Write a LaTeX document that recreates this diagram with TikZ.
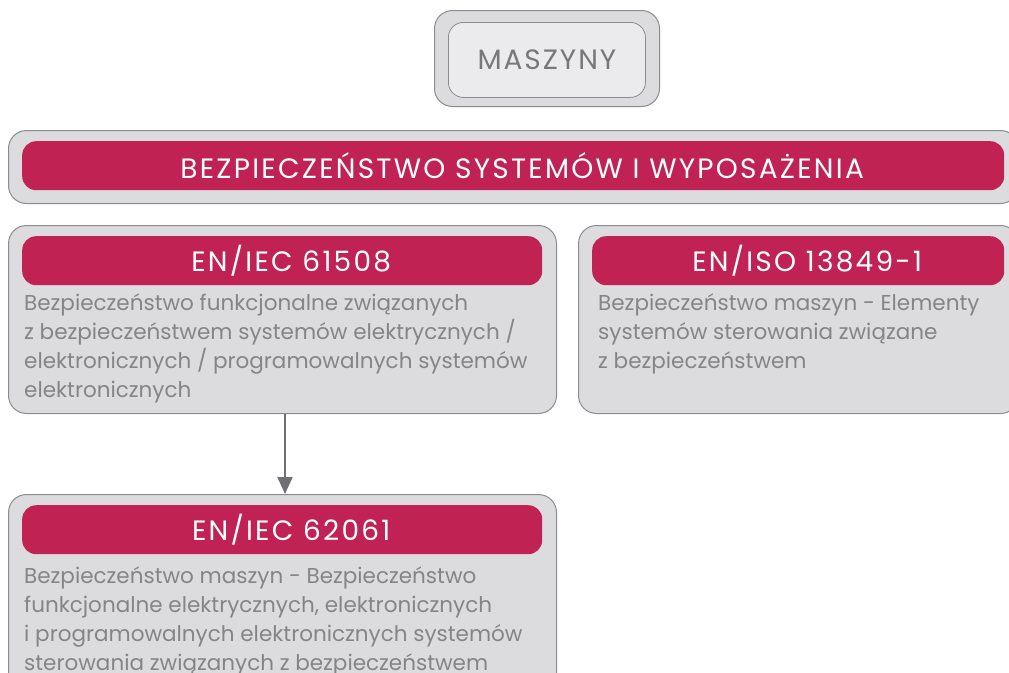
\documentclass[tikz,border=0pt]{standalone}
\usepackage{fontspec}
\setmainfont{Poppins}
\usetikzlibrary{arrows.meta}

\definecolor{crimson}{HTML}{C02353}
\definecolor{boxgray}{HTML}{DCDCDE}
\definecolor{innergray}{HTML}{EBEBED}
\definecolor{edgegray}{HTML}{8C8C8E}
\definecolor{textgray}{HTML}{858588}
\definecolor{arrowgray}{HTML}{707074}

\tikzset{
  outerbox/.style={draw=edgegray, fill=boxgray, line width=1pt, rounded corners=18pt,
    anchor=north west, inner sep=0pt},
  innerbox/.style={draw=edgegray, fill=innergray, line width=0.8pt, rounded corners=15pt,
    anchor=north west, inner sep=0pt, text=textgray!90!black,
    font={\fontsize{28}{30}\selectfont\addfontfeature{LetterSpace=7}}},
  header/.style={fill=crimson, rounded corners=14pt, anchor=north west, inner sep=0pt,
    text=white, font={\fontsize{28}{30}\selectfont\addfontfeature{LetterSpace=8}},
    execute at begin node={\hspace*{18pt}}},
  bodytext/.style={anchor=north west, inner sep=0pt, align=left, text=textgray,
    font={\fontsize{21.5}{29.3}\selectfont}},
  arrowline/.style={draw=arrowgray, line width=2pt, -{Triangle[length=17pt,width=15pt]}}
}

\begin{document}
\begin{tikzpicture}[x=1pt,y=-1pt]

% ----- Canvas -----
\useasboundingbox (0,0) rectangle (1009,672);
\clip (0,0) rectangle (1009,672);

% ----- Top: machines -----
\node[outerbox, minimum width=225pt, minimum height=96pt] (maszynyOut) at (434,10) {};
\node[innerbox, minimum width=197pt, minimum height=75pt] (maszyny) at (448,22) {MASZYNY};

% ----- Banner -----
\node[outerbox, minimum width=1010pt, minimum height=73pt] (bannerOut) at (8,130) {};
\node[header, minimum width=982pt, minimum height=49pt] (banner) at (22,141)
  {BEZPIECZEŃSTWO SYSTEMÓW I WYPOSAŻENIA};

% ----- EN/IEC 61508 -----
\node[outerbox, minimum width=548pt, minimum height=188pt] (iecA) at (8,225) {};
\node[header, minimum width=520pt, minimum height=49pt] (iecAhead) at (22,236) {EN/IEC 61508};
\node[bodytext] (iecAtext) at (24,293)
  {Bezpieczeństwo funkcjonalne związanych\\
   z bezpieczeństwem systemów elektrycznych /\\
   elektronicznych / programowalnych systemów\\
   elektronicznych};

% ----- EN/ISO 13849-1 -----
\node[outerbox, minimum width=440pt, minimum height=188pt] (iso) at (578,225) {};
\node[header, minimum width=412pt, minimum height=49pt] (isohead) at (592,236) {EN/ISO 13849-1};
\node[bodytext] (isotext) at (598,293)
  {Bezpieczeństwo maszyn - Elementy\\
   systemów sterowania związane\\
   z bezpieczeństwem};

% ----- EN/IEC 62061 -----
\node[outerbox, minimum width=548pt, minimum height=200pt] (iecB) at (8,494) {};
\node[header, minimum width=520pt, minimum height=49pt] (iecBhead) at (22,505) {EN/IEC 62061};
\node[bodytext] (iecBtext) at (24,566)
  {Bezpieczeństwo maszyn - Bezpieczeństwo\\
   funkcjonalne elektrycznych, elektronicznych\\
   i programowalnych elektronicznych systemów\\
   sterowania związanych z bezpieczeństwem};

% ----- Arrow -----
\draw[arrowline] ([xshift=2.5pt]iecA.south) -- ([xshift=2.5pt]iecB.north);

\end{tikzpicture}
\end{document}
